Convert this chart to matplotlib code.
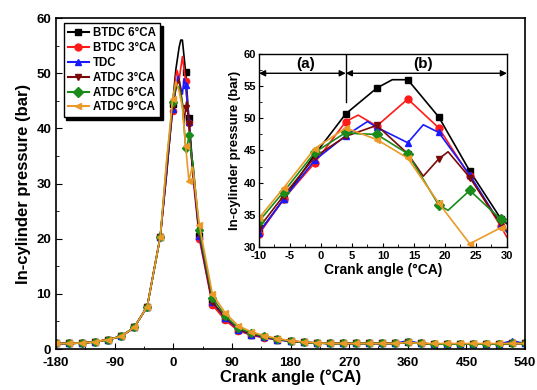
import numpy as np
import matplotlib
matplotlib.use("Agg")
import matplotlib.pyplot as plt
from matplotlib.ticker import MultipleLocator

plt.rcParams["font.family"] = ["Liberation Sans", "DejaVu Sans"]
plt.rcParams["font.weight"] = "bold"
plt.rcParams["axes.labelweight"] = "bold"
plt.rcParams["axes.unicode_minus"] = False

labels = ["BTDC 6\u00b0CA", "BTDC 3\u00b0CA", "TDC", "ATDC 3\u00b0CA", "ATDC 6\u00b0CA", "ATDC 9\u00b0CA"]
colors = ["#000000", "#ff1a1a", "#1a1aff", "#7a0a0a", "#1a8a1a", "#eb9a28"]
markers = ["s", "o", "^", "v", "D", "<"]

# compression side, shared by all cases
pre_angle = [-180, -160, -140, -120, -100, -80, -60, -40, -20]
pre_p = [1.0, 1.0, 1.1, 1.3, 1.7, 2.3, 3.9, 7.7, 20.3]

# combustion region, marker points every 5 deg
ins_angle = [-10, -6, -1, 4, 9, 14, 19, 24, 29, 30]
ins_p = [
    [32.3, 37.4, 44.4, 50.7, 54.7, 56.0, 50.2, 41.8, 34.4, 33.6],
    [32.0, 37.5, 43.1, 49.5, 48.8, 53.0, 48.5, 41.0, 33.2, 31.5],
    [32.2, 37.5, 43.5, 47.3, 48.6, 46.2, 47.8, 41.2, 33.5, 32.3],
    [33.0, 38.0, 44.0, 47.2, 48.9, 44.5, 43.7, 40.8, 33.5, 32.6],
    [34.0, 38.6, 44.7, 47.8, 47.5, 44.5, 36.5, 38.8, 34.3, 33.8],
    [34.5, 39.2, 45.3, 48.5, 46.7, 43.8, 36.8, 30.5, 33.0, 32.8],
]
# extra points
extra_angle = [
    [11.5],
    [6.0],
    [7.5, 16.5],
    [16.5, 20.5],
    [6.0, 20.5],
    [],
]
extra_p = [
    [56.0],
    [50.5],
    [49.5, 49.0],
    [41.0, 44.8],
    [47.6, 35.7],
    [],
]
# which combustion points carry a marker in the main panel
main_mark_angle = [-1, 19, 24]

# expansion side
post_angle = [40, 60, 80, 100, 120, 140, 160, 180, 200, 220, 240, 260, 280, 300, 320, 340,
              360, 380, 400, 420, 440, 460, 480, 500, 520, 540]
post_p = [
    [20.5, 8.5, 5.5, 3.5, 2.6, 2.1, 1.7, 1.4, 1.2, 1.1, 1.0, 1.0, 1.0, 1.0, 1.0, 1.0, 1.2, 1.0, 0.9, 0.9, 0.9, 0.9, 0.9, 0.9, 1.0, 1.0],
    [20.0, 8.0, 5.2, 3.3, 2.5, 2.0, 1.7, 1.4, 1.2, 1.1, 1.0, 1.0, 1.0, 1.0, 1.0, 1.0, 1.2, 1.0, 0.9, 0.9, 0.9, 0.9, 0.9, 0.9, 1.0, 1.0],
    [20.5, 8.5, 5.6, 3.5, 2.6, 2.1, 1.7, 1.4, 1.2, 1.1, 1.0, 1.0, 1.0, 1.0, 1.0, 1.0, 1.5, 1.0, 0.9, 0.9, 0.9, 0.9, 0.9, 0.9, 1.5, 1.0],
    [21.0, 8.5, 5.8, 3.6, 2.7, 2.2, 1.8, 1.5, 1.2, 1.1, 1.0, 1.0, 1.0, 1.0, 1.0, 1.0, 1.2, 1.0, 0.9, 0.9, 0.9, 0.9, 0.9, 0.9, 1.0, 1.0],
    [21.5, 9.3, 6.0, 3.8, 2.9, 2.3, 1.8, 1.5, 1.2, 1.1, 1.0, 1.0, 1.0, 1.0, 1.0, 1.0, 1.2, 1.0, 0.9, 0.9, 0.9, 0.9, 0.9, 0.9, 1.0, 1.0],
    [22.5, 10.0, 6.5, 4.2, 3.1, 2.4, 1.9, 1.5, 1.3, 1.1, 1.0, 1.0, 1.0, 1.0, 1.0, 1.0, 1.2, 1.0, 1.0, 1.0, 1.0, 1.0, 1.0, 1.0, 1.0, 1.0],
]


def series(i):
    a = np.array(ins_angle + extra_angle[i], dtype=float)
    p = np.array(ins_p[i] + extra_p[i], dtype=float)
    order = np.argsort(a)
    return a[order], p[order]


fig = plt.figure(figsize=(5.37, 3.90), dpi=100)
ax = fig.add_axes([0.1043, 0.1051, 0.8734, 0.8487])

for i in range(6):
    a, p = series(i)
    full_a = np.concatenate([pre_angle, a, post_angle])
    full_p = np.concatenate([pre_p, p, post_p[i]])
    ax.plot(full_a, full_p, color=colors[i], lw=1.2)
    peak_p = [ins_p[i][ins_angle.index(m)] for m in main_mark_angle]
    mk_a = np.concatenate([pre_angle, main_mark_angle, post_angle])
    mk_p = np.concatenate([pre_p, peak_p, post_p[i]])
    ax.plot(mk_a, mk_p, ls="none", marker=markers[i], color=colors[i], ms=4.5)
    ax.plot([], [], color=colors[i], marker=markers[i], ms=5, lw=1.5, label=labels[i])

ax.set_xlim(-180, 540)
ax.set_ylim(0, 60)
ax.xaxis.set_major_locator(MultipleLocator(90))
ax.xaxis.set_minor_locator(MultipleLocator(45))
ax.yaxis.set_major_locator(MultipleLocator(10))
ax.yaxis.set_minor_locator(MultipleLocator(5))
ax.tick_params(which="both", direction="in", top=False, right=False, labelsize=9.5)
ax.tick_params(which="major", length=4)
ax.tick_params(which="minor", length=2.5)
ax.tick_params(axis="x", pad=6)
for s in ax.spines.values():
    s.set_linewidth(1.2)
ax.set_xlabel("Crank angle (\u00b0CA)", fontsize=12, labelpad=0)
ax.set_ylabel("In-cylinder pressure (bar)", fontsize=12, labelpad=4)

leg = ax.legend(loc="upper left", bbox_to_anchor=(0.016, 0.985), fontsize=8.3, frameon=True,
                fancybox=False, shadow={"color": "black", "alpha": 1.0}, edgecolor="black",
                handlelength=1.9, handletextpad=0.3, labelspacing=0.25, borderpad=0.35,
                borderaxespad=0)
leg.get_frame().set_linewidth(1.0)

# inset
ins = fig.add_axes([0.4823, 0.3667, 0.4618, 0.4949])
for i in range(6):
    a, p = series(i)
    ins.plot(a, p, color=colors[i], lw=1.2)
    ins.plot(ins_angle[:-1], ins_p[i][:-1], ls="none", marker=markers[i], color=colors[i], ms=5)

ins.set_xlim(-10, 30)
ins.set_ylim(30, 60)
ins.xaxis.set_major_locator(MultipleLocator(5))
ins.xaxis.set_minor_locator(MultipleLocator(2.5))
ins.yaxis.set_major_locator(MultipleLocator(5))
ins.yaxis.set_minor_locator(MultipleLocator(2.5))
ins.tick_params(which="both", direction="in", top=False, right=False, labelsize=8)
ins.tick_params(which="major", length=3)
ins.tick_params(which="minor", length=2)
ins.tick_params(axis="x", pad=3)
ins.tick_params(axis="y", pad=2)
for s in ins.spines.values():
    s.set_linewidth(1.0)
ins.set_xlabel("Crank angle (\u00b0CA)", fontsize=10, labelpad=1)
ins.set_ylabel("In-cylinder pressure (bar)", fontsize=9.5, labelpad=2)

# regions (a) and (b)
ins.plot([4, 4], [52.5, 60], color="black", lw=1.0)
arrow = dict(arrowstyle="<|-|>", color="black", lw=1.0, mutation_scale=9, shrinkA=0, shrinkB=0)
ins.annotate("", xy=(-10, 57), xytext=(4, 57), arrowprops=arrow)
ins.annotate("", xy=(4, 57), xytext=(30, 57), arrowprops=arrow)
ins.text(-2.5, 58.4, "(a)", fontsize=11, ha="center", va="center")
ins.text(16.5, 58.4, "(b)", fontsize=11, ha="center", va="center")

fig.savefig("out.png", dpi=100)
